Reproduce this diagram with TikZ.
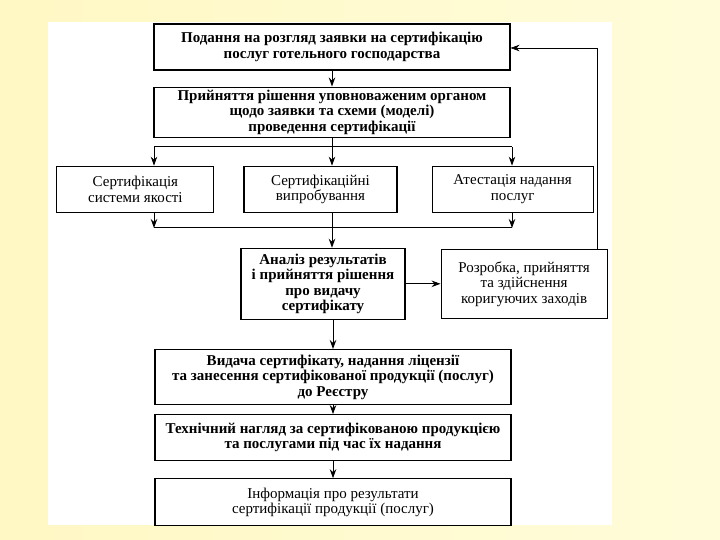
\documentclass[tikz,border=0pt]{standalone}
\usepackage{fontspec}
\setmainfont{Liberation Serif}
\usetikzlibrary{positioning,arrows.meta}

\definecolor{pageleft}{RGB}{255,248,196}
\definecolor{pageright}{RGB}{255,252,218}

\begin{document}
\begin{tikzpicture}[x=1pt, y=-1pt,
  box/.style={draw, line width=1.1pt, align=center, inner sep=1pt,
    minimum width=356pt, font=\fontsize{15}{15.5}\selectfont\bfseries},
  plainbox/.style={box, font=\fontsize{15}{15.5}\selectfont},
  arr/.style={line width=1pt, -{Stealth[length=9pt,width=6.5pt]}}]
  \useasboundingbox (0,0) rectangle (720,540);
  \shade[left color=pageleft, right color=pageright] (0,0) rectangle (720,540);
  \fill[white] (48,22) rectangle (612,525);

  \node[box, minimum height=46pt] (submit) at (332,47)
    {Подання на розгляд заявки на сертифікацію\\послуг готельного господарства} ;
  \node[box, minimum height=50pt, below=16pt of submit] (decide)
    {Прийняття рішення уповноваженим органом\\щодо заявки та схеми (моделі)\\проведення сертифікації} ;
  \node[plainbox, minimum width=153pt, minimum height=46pt, below=28pt of decide, xshift=-11.5pt] (tests)
    {Сертифікаційні\\випробування} ;
  \node[plainbox, minimum width=157pt, minimum height=46pt, left=29pt of tests] (quality)
    {Сертифікація\\системи якості} ;
  \node[plainbox, minimum width=161pt, minimum height=46pt, right=34pt of tests] (attest)
    {Атестація надання\\послуг} ;
  \node[box, minimum width=164pt, minimum height=71pt, below=35pt of tests, xshift=2.5pt] (analysis)
    {Аналіз результатів\\і прийняття рішення\\про видачу\\сертифікату} ;
  \node[plainbox, minimum width=166pt, minimum height=69pt, right=35pt of analysis] (correct)
    {Розробка, прийняття\\та здійснення\\коригуючих заходів} ;
  \node[box, minimum height=55pt, anchor=north] (issue) at (333,349)
    {Видача сертифікату, надання ліцензії\\та занесення сертифікованої продукції (послуг)\\до Реєстру} ;
  \node[box, minimum height=46pt, below=9pt of issue] (supervise)
    {Технічний нагляд за сертифікованою продукцією\\та послугами під час їх надання} ;
  \node[plainbox, minimum height=47pt, below=17pt of supervise] (inform)
    {Інформація про результати\\сертифікації продукції (послуг)} ;

  % fork and join of the middle row
  \coordinate (fork) at (332,147) ;
  \coordinate (forkL) at (154,147) ;
  \coordinate (forkR) at (512,147) ;
  \coordinate (join) at (332,228) ;
  \coordinate (joinL) at (154,228) ;
  \coordinate (joinR) at (512,228) ;
  \coordinate (back) at (597,48) ;

  \draw[arr] (submit) -- (decide) ;
  \draw[line width=1pt] (decide.south -| fork) -- (fork) ;
  \draw[line width=1pt] (forkL) -- (forkR) ;
  \draw[arr] (forkL) -- (forkL |- quality.north) ;
  \draw[arr] (fork) -- (fork |- tests.north) ;
  \draw[arr] (forkR) -- (forkR |- attest.north) ;
  \draw[arr] (quality.south -| joinL) -- (joinL) ;
  \draw[arr] (attest.south -| joinR) -- (joinR) ;
  \draw[line width=1pt] (joinL) -- (joinR) ;
  \draw[arr] (tests.south -| join) -- (join |- analysis.north) ;
  \draw[arr] (analysis) -- (correct) ;
  \draw[arr, line width=0.6pt] (correct.north -| back) -- (back) -- (back -| submit.east) ;
  \draw[arr] (analysis.south -| issue.north) -- (issue) ;
  \draw[arr] (issue) -- (supervise) ;
  \draw[arr] (supervise) -- (inform) ;
\end{tikzpicture}
\end{document}
